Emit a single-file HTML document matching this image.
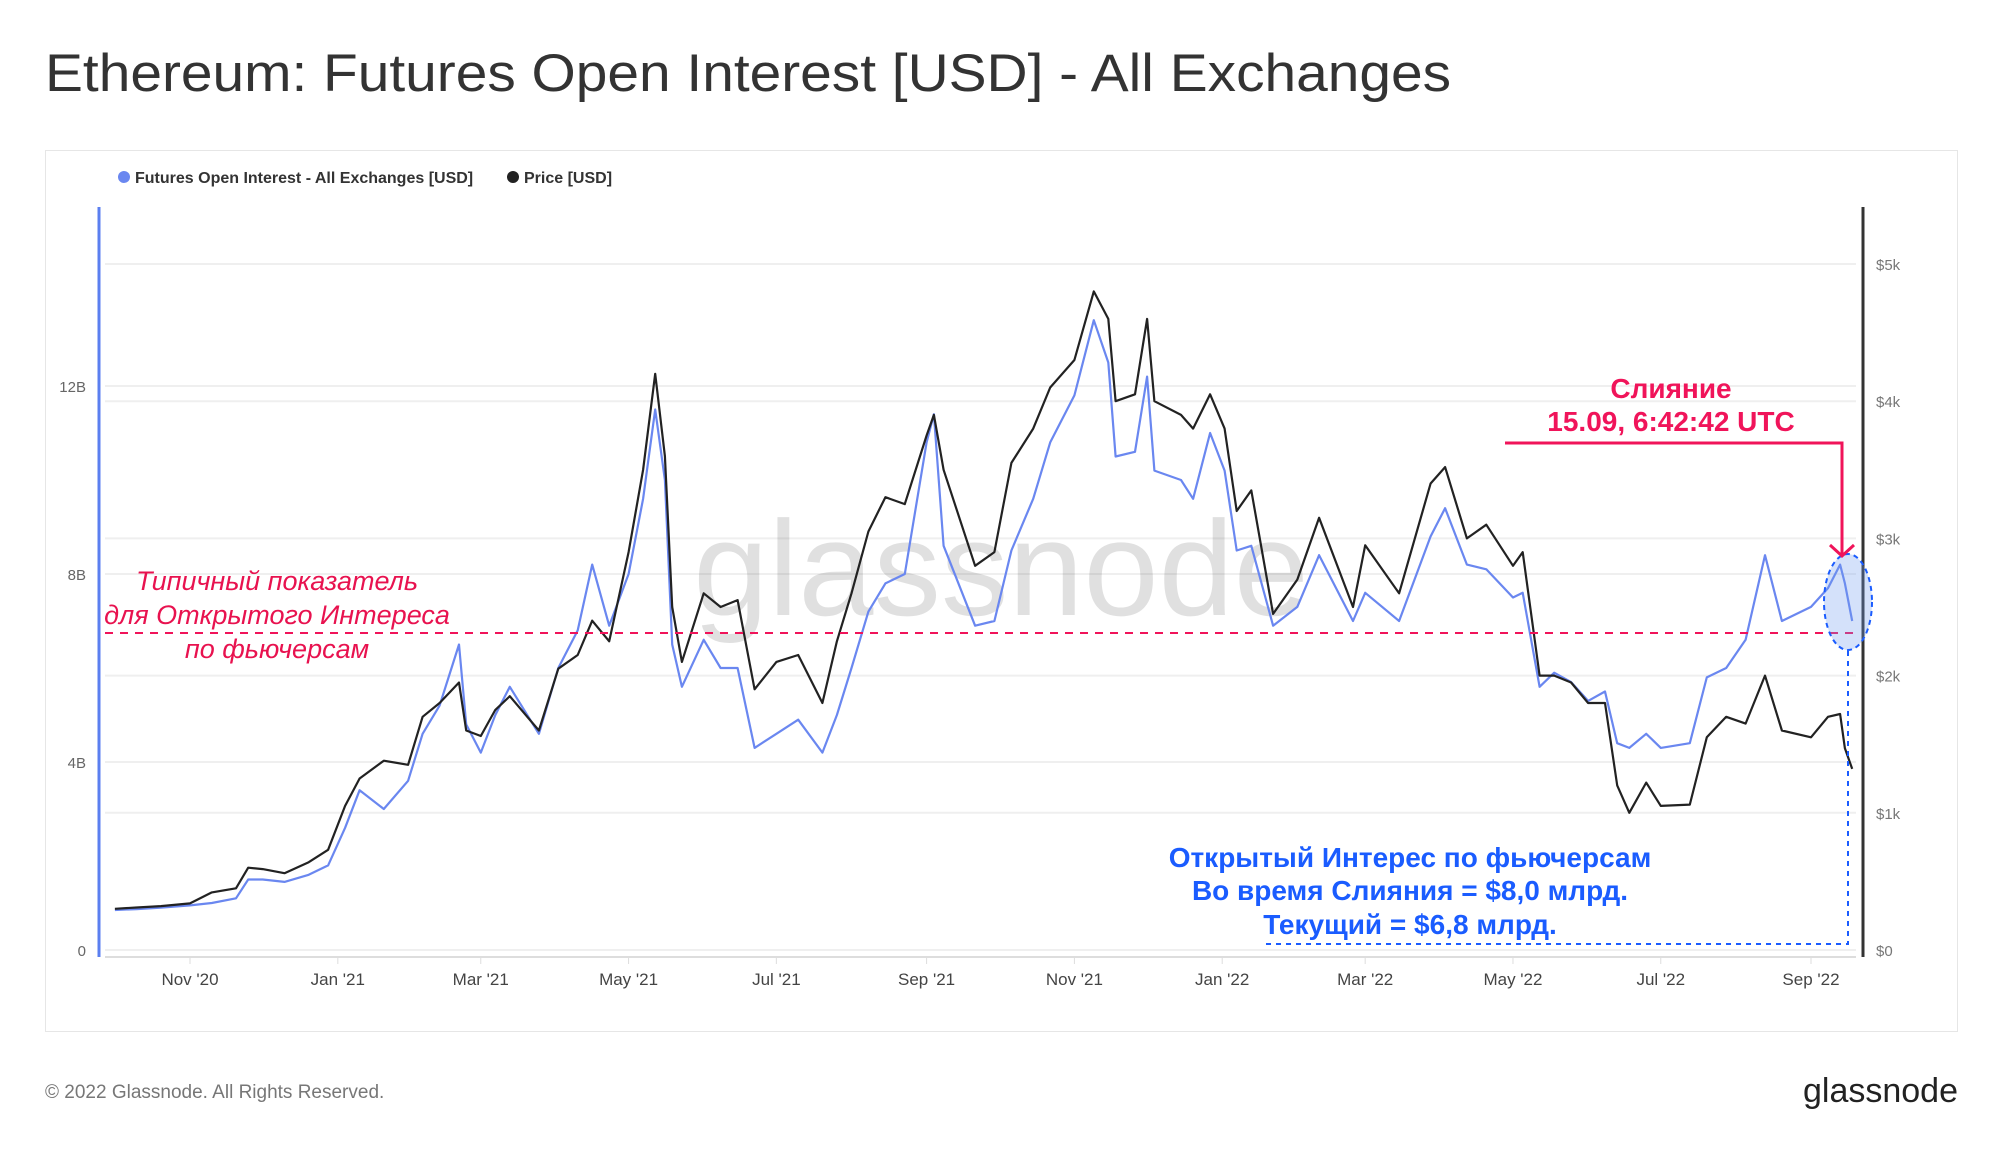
<!DOCTYPE html>
<html><head><meta charset="utf-8"><style>
html,body{margin:0;padding:0;background:#fff;width:2000px;height:1152px;overflow:hidden;font-family:"Liberation Sans","DejaVu Sans",sans-serif}
</style></head><body>
<svg width="2000" height="1152" viewBox="0 0 2000 1152" xmlns="http://www.w3.org/2000/svg">
<text x="45" y="91" font-size="53" fill="#333" textLength="1406" lengthAdjust="spacingAndGlyphs">Ethereum: Futures Open Interest [USD] - All Exchanges</text>
<rect x="45.5" y="150.5" width="1912" height="881" fill="#fff" stroke="#e6e6e6"/>
<g>
<circle cx="124" cy="177" r="6" fill="#6a87f0"/>
<text x="135" y="183" font-size="16" fill="#333" font-weight="bold">Futures Open Interest - All Exchanges [USD]</text>
<circle cx="513" cy="177" r="6" fill="#222"/>
<text x="524" y="183" font-size="16" fill="#333" font-weight="bold">Price [USD]</text>
</g>
<g id="grid"></g>
<text x="1001" y="615" font-size="135" fill="#000" fill-opacity="0.12" text-anchor="middle">glassnode</text>
<g id="axes"></g>
<g id="series"></g>
<g>
<line x1="105" y1="633" x2="1860" y2="633" stroke="#f0145a" stroke-width="2" stroke-dasharray="8,7"/>
<g font-size="27" font-style="italic" fill="#e8124f" text-anchor="middle">
<text x="277" y="590">Типичный показатель</text>
<text x="277" y="624">для Открытого Интереса</text>
<text x="277" y="658">по фьючерсам</text>
</g>
<ellipse cx="1848" cy="602" rx="24" ry="48" fill="#6f9af0" fill-opacity="0.3" stroke="#1a5cff" stroke-width="2" stroke-dasharray="5,4"/>
<polyline points="1505,443 1842,443 1842,556" fill="none" stroke="#f0145a" stroke-width="3"/>
<polyline points="1830,545 1842,556 1854,545" fill="none" stroke="#f0145a" stroke-width="3"/>
<g font-size="28" font-weight="bold" fill="#f0145a" text-anchor="middle">
<text x="1671" y="398">Слияние</text>
<text x="1671" y="431">15.09, 6:42:42 UTC</text>
</g>
<polyline points="1848,651 1848,944 1263,944" fill="none" stroke="#1a5cff" stroke-width="2" stroke-dasharray="5,5"/>
<g font-size="28" font-weight="bold" fill="#1a5cff" text-anchor="middle">
<text x="1410" y="867">Открытый Интерес по фьючерсам</text>
<text x="1410" y="900">Во время Слияния = $8,0 млрд.</text>
<text x="1410" y="934">Текущий = $6,8 млрд.</text>
</g>
</g>
<text x="45" y="1098" font-size="19" fill="#777">© 2022 Glassnode. All Rights Reserved.</text>
<text x="1958" y="1102" font-size="34" fill="#222" text-anchor="end">glassnode</text>
</svg>
<script>
const dates=["2020-10-01","2020-10-10","2020-10-20","2020-11-01","2020-11-10","2020-11-20","2020-11-25","2020-12-01","2020-12-10","2020-12-20","2020-12-28","2021-01-04","2021-01-10","2021-01-20","2021-01-30","2021-02-05","2021-02-12","2021-02-20","2021-02-23","2021-03-01","2021-03-07","2021-03-13","2021-03-25","2021-04-02","2021-04-10","2021-04-16","2021-04-23","2021-05-01","2021-05-07","2021-05-12","2021-05-16","2021-05-19","2021-05-23","2021-06-01","2021-06-08","2021-06-15","2021-06-22","2021-07-01","2021-07-10","2021-07-20","2021-07-26","2021-08-01","2021-08-08","2021-08-15","2021-08-23","2021-09-01","2021-09-04","2021-09-08","2021-09-21","2021-09-29","2021-10-06","2021-10-15","2021-10-22","2021-11-01","2021-11-09","2021-11-15","2021-11-18","2021-11-26","2021-12-01","2021-12-04","2021-12-15","2021-12-20","2021-12-27","2022-01-02","2022-01-07","2022-01-13","2022-01-22","2022-02-01","2022-02-10","2022-02-24","2022-03-01","2022-03-15","2022-03-28","2022-04-03","2022-04-12","2022-04-20","2022-05-01","2022-05-05","2022-05-12","2022-05-18","2022-05-25","2022-06-01","2022-06-08","2022-06-13","2022-06-18","2022-06-25","2022-07-01","2022-07-13","2022-07-20","2022-07-28","2022-08-05","2022-08-13","2022-08-20","2022-09-01","2022-09-08","2022-09-13","2022-09-15","2022-09-18"];
const price=[300,310,320,340,420,450,600,590,560,640,730,1050,1250,1380,1350,1700,1800,1950,1600,1560,1750,1850,1600,2050,2150,2400,2250,2900,3500,4200,3600,2500,2100,2600,2500,2550,1900,2100,2150,1800,2250,2600,3050,3300,3250,3750,3900,3500,2800,2900,3550,3800,4100,4300,4800,4600,4000,4050,4600,4000,3900,3800,4050,3800,3200,3350,2450,2700,3150,2500,2950,2600,3400,3520,3000,3100,2800,2900,2000,2000,1950,1800,1800,1200,1000,1220,1050,1060,1550,1700,1650,2000,1600,1550,1700,1720,1470,1320];
const openInterest=[0.85,0.87,0.9,0.95,1.0,1.1,1.5,1.5,1.45,1.6,1.8,2.6,3.4,3.0,3.6,4.6,5.2,6.5,4.8,4.2,5.0,5.6,4.6,6.0,6.8,8.2,6.9,8.0,9.6,11.5,10.0,6.5,5.6,6.6,6.0,6.0,4.3,4.6,4.9,4.2,5.0,6.0,7.2,7.8,8.0,10.8,11.4,8.6,6.9,7.0,8.5,9.6,10.8,11.8,13.4,12.5,10.5,10.6,12.2,10.2,10.0,9.6,11.0,10.2,8.5,8.6,6.9,7.3,8.4,7.0,7.6,7.0,8.8,9.4,8.2,8.1,7.5,7.6,5.6,5.9,5.7,5.3,5.5,4.4,4.3,4.6,4.3,4.4,5.8,6.0,6.6,8.4,7.0,7.3,7.7,8.2,7.8,7.0];
const leftTicks=[0,4,8,12];
const leftTickLabels=["0","4B","8B","12B"];
const rightTicks=[0,1000,2000,3000,4000,5000];
const rightTickLabels=["$0","$1k","$2k","$3k","$4k","$5k"];
const xTickDates=["2020-11-01","2021-01-01","2021-03-01","2021-05-01","2021-07-01","2021-09-01","2021-11-01","2022-01-01","2022-03-01","2022-05-01","2022-07-01","2022-09-01"];
const xTickLabels=["Nov '20","Jan '21","Mar '21","May '21","Jul '21","Sep '21","Nov '21","Jan '22","Mar '22","May '22","Jul '22","Sep '22"];

const NS="http://www.w3.org/2000/svg";
const t0=Date.parse("2020-11-01"),t1=Date.parse("2022-09-01");
function xScale(d){return 190+(Date.parse(d)-t0)/(t1-t0)*(1811-190);}
function yLeft(v){return 950-v/4*188;}
function yRight(v){return 950-v/1000*137.2;}
function mk(tag,attrs,parent){const e=document.createElementNS(NS,tag);for(const k in attrs)e.setAttribute(k,attrs[k]);parent.appendChild(e);return e;}
const grid=document.getElementById('grid'),axes=document.getElementById('axes'),series=document.getElementById('series');
leftTicks.forEach((v,i)=>{
 const y=yLeft(v);
 const l=mk('line',{x1:105,x2:1856,y1:y,y2:y,stroke:'#efefef','stroke-width':2},grid);
 
 
 const t=mk('text',{x:86,y:y+6,'font-size':15,fill:'#666','text-anchor':'end'},axes);
 t.textContent=leftTickLabels[i];
 
 
});
rightTicks.forEach((v,i)=>{
 const y=yRight(v);
 const l=mk('line',{x1:105,x2:1856,y1:y,y2:y,stroke:'#efefef','stroke-width':2},grid);
 
 
 const t=mk('text',{x:1876,y:y+6,'font-size':15,fill:'#777'},axes);
 t.textContent=rightTickLabels[i];
 
 
});
xTickDates.forEach((d,i)=>{
 const x=xScale(d);
 const tk=mk('line',{x1:x,x2:x,y1:957,y2:964,stroke:'#ddd'},axes);
 
 
 const t=mk('text',{x:x,y:985,'font-size':17,fill:'#444','text-anchor':'middle'},axes);
 t.textContent=xTickLabels[i];
 
 
});
const bl=mk('line',{x1:105,x2:1856,y1:957,y2:957,stroke:'#ddd','stroke-width':2},axes);


const la=mk('line',{x1:99,x2:99,y1:207,y2:957,stroke:'#5b7ff0','stroke-width':3},axes);


const ra=mk('line',{x1:1863,x2:1863,y1:207,y2:957,stroke:'#333','stroke-width':3},axes);


const oiPts=dates.map((d,i)=>xScale(d).toFixed(1)+','+yLeft(openInterest[i]).toFixed(1)).join(' ');
const oiLine=mk('polyline',{points:oiPts,fill:'none',stroke:'#6a87f0','stroke-width':2.2,'stroke-linejoin':'round'},series);


const pPts=dates.map((d,i)=>xScale(d).toFixed(1)+','+yRight(price[i]).toFixed(1)).join(' ');
const pLine=mk('polyline',{points:pPts,fill:'none',stroke:'#222','stroke-width':2.2,'stroke-linejoin':'round'},series);


</script>
</body></html>
